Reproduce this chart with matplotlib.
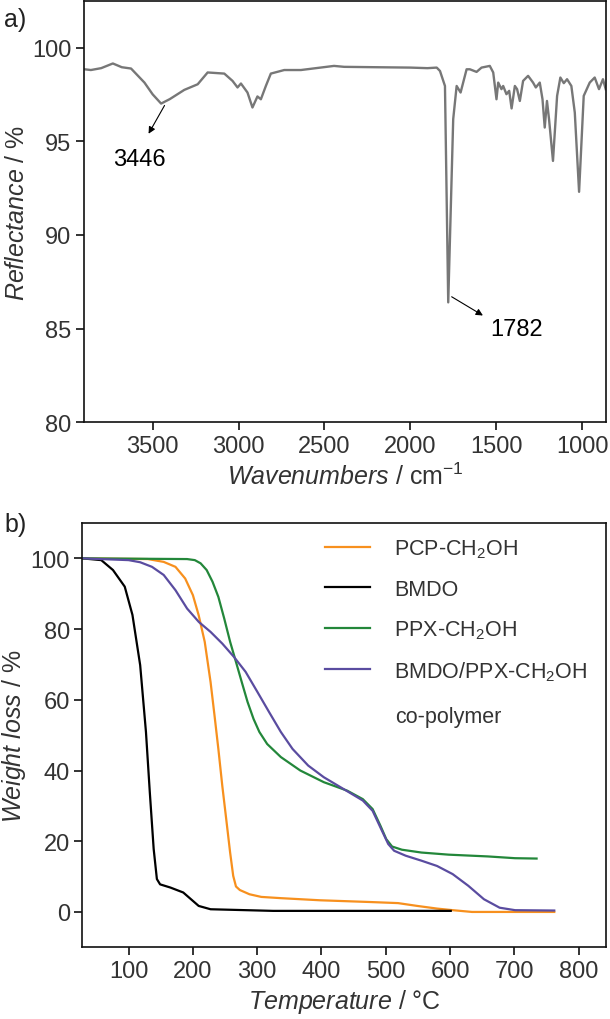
import matplotlib
matplotlib.use("Agg")
import matplotlib.pyplot as plt
import numpy as np

plt.rcParams['font.family'] = ['Liberation Sans', 'DejaVu Sans']
plt.rcParams['mathtext.fontset'] = 'custom'
plt.rcParams['mathtext.rm'] = 'Liberation Sans'
plt.rcParams['mathtext.it'] = 'Liberation Sans:italic'
plt.rcParams['mathtext.bf'] = 'Liberation Sans:bold'

# ---------------- data: (a) IR spectrum ----------------
ir_wavenumber = [3897, 3860, 3800, 3732, 3680, 3626, 3548, 3500, 3451, 3400, 3316, 3238,
                 3180, 3083, 3035, 3006, 2986, 2948, 2919, 2890, 2870, 2841, 2812, 2734,
                 2637, 2444, 2385, 2200, 2000, 1900, 1846, 1827, 1798, 1779, 1750, 1730,
                 1707, 1672, 1653, 1614, 1585, 1537, 1517, 1498, 1488, 1469, 1459, 1440,
                 1424, 1410, 1391, 1378, 1362, 1343, 1314, 1285, 1269, 1246, 1230, 1217,
                 1204, 1192, 1169, 1145, 1126, 1106, 1087, 1062, 1042, 1017, 990, 955,
                 926, 901, 878, 862]
ir_reflectance = [98.84, 98.80, 98.90, 99.15, 98.95, 98.88, 98.13, 97.50, 97.01, 97.25, 97.74, 98.04,
                  98.67, 98.61, 98.22, 97.87, 98.08, 97.60, 96.80, 97.39, 97.24, 97.95, 98.61, 98.80,
                  98.80, 99.02, 98.97, 98.95, 98.93, 98.90, 98.93, 98.75, 97.95, 86.40, 96.18, 97.95,
                  97.60, 98.84, 98.84, 98.70, 98.93, 99.02, 98.67, 97.24, 98.13, 97.78, 97.95, 97.51,
                  97.69, 96.75, 97.95, 97.78, 97.15, 98.22, 98.49, 98.13, 97.87, 98.13, 97.24, 95.73,
                  97.15, 96.18, 93.95, 97.42, 98.40, 98.10, 98.31, 97.95, 96.53, 92.30, 97.42, 98.13,
                  98.40, 97.78, 98.31, 97.78]
ir_peak_labels = ["3446", "1782"]
ir_peak_pos = [3446, 1779]
ir_peak_val = [97.01, 86.40]

# ---------------- data: (b) TGA ----------------
pcp_T = [28, 130, 154.6, 172.9, 188, 200, 209, 218.4, 227.5, 233.6, 239.6, 245.7, 251.8, 257.9,
         262.7, 267, 273, 288, 306.4, 336.8, 397.5, 476.4, 519, 549, 579.7, 604, 634, 762]
pcp_W = [100, 99.8, 99, 97.6, 94.3, 89.6, 83.9, 76.4, 65, 55.6, 46.1, 35.7, 26.3, 16.8,
         10.2, 7.2, 6.2, 5.0, 4.25, 3.9, 3.3, 2.8, 2.5, 1.7, 0.95, 0.5, 0.0, 0.0]

bmdo_T = [28, 57.5, 75.7, 94, 106, 118, 127, 133, 139, 144, 149, 165, 185, 197, 209,
          227.5, 324.7, 601]
bmdo_W = [100, 99.5, 96.7, 92, 84, 69.8, 50.9, 33.8, 17.8, 9.3, 7.8, 6.9, 5.5, 3.6, 1.7,
          0.76, 0.3, 0.3]

ppx_T = [28, 191, 203, 212, 221.4, 230.5, 239.6, 248.7, 257.9, 267, 276, 285, 294.3, 303.4,
         315.5, 336.8, 367, 403.6, 440, 464.3, 479.5, 491.6, 500.7, 509.8, 525, 555.4, 597.8,
         658.6, 701, 734.5]
ppx_W = [100, 99.8, 99.5, 98.6, 96.7, 93.4, 89.1, 83, 76.4, 70.7, 65, 59.4, 54.6, 50.9,
         47.5, 43.8, 40, 36.7, 34.3, 31.9, 29.1, 24.4, 20.6, 18.5, 17.6, 16.8, 16.2,
         15.7, 15.2, 15.1]

cop_T = [28, 100, 118, 136.4, 154.6, 172.9, 191, 209.3, 227.5, 245.7, 264, 282, 300.4, 318.6,
         336.8, 355, 379.3, 403.6, 434, 464.3, 479.5, 491.6, 503.8, 513, 531, 555.4, 579.7,
         604, 628.3, 652.6, 677, 701, 762]
cop_W = [100, 99.5, 98.9, 97.6, 95.3, 91, 85.8, 82, 79.2, 75.9, 72.1, 67.9, 62.2, 56.5,
         50.9, 46.1, 41.4, 38.1, 34.8, 31.5, 28.6, 23.9, 19.2, 17.3, 15.9, 14.5, 13,
         10.7, 7.4, 3.6, 1.2, 0.5, 0.4]

series_labels = ["PCP-CH$_2$OH", "BMDO", "PPX-CH$_2$OH", "BMDO/PPX-CH$_2$OH"]
series_colors = ["#F7901E", "#000000", "#23873A", "#5A4CA0"]

# ---------------- figure ----------------
W, H = 610, 1020
fig = plt.figure(figsize=(W / 100, H / 100), dpi=100)

tick_color = '#333333'
fs_tick = 17
fs_label = 18

def style(ax):
    for s in ax.spines.values():
        s.set_linewidth(1.2)
        s.set_color('#111111')
    ax.tick_params(direction='out', length=6, width=1.2, colors='#111111',
                   labelcolor=tick_color, labelsize=fs_tick, top=False, right=False, pad=3)

# (a)
ax1 = fig.add_axes([84 / W, 1 - 423.3 / H, (605.7 - 84) / W, (423.3 - 1.7) / H])
ax1.plot(ir_wavenumber, ir_reflectance, color='#777777', lw=1.7)
ax1.set_xlim(3900, 862)
ax1.set_ylim(80, 102.5)
ax1.set_xticks([3500, 3000, 2500, 2000, 1500, 1000])
ax1.set_yticks([80, 85, 90, 95, 100])
style(ax1)
ax1.set_xlabel(r'$\it{Wavenumbers}$ / cm$^{-1}$', fontsize=fs_label, color=tick_color, labelpad=4)
ax1.set_ylabel(r'$\it{Reflectance}$ / %', fontsize=fs_label, color=tick_color, labelpad=2)

arrow_kw = dict(arrowstyle='-|>', color='black', lw=0.8, mutation_scale=10,
                shrinkA=0, shrinkB=0)
ax1.annotate('', xy=(3524, 95.4), xytext=(ir_peak_pos[0] - 15, ir_peak_val[0] - 0.1),
             arrowprops=arrow_kw)
ax1.text(3577, 94.04, ir_peak_labels[0], fontsize=17, ha='center', va='center', color='black')
ax1.annotate('', xy=(1577, 85.7), xytext=(ir_peak_pos[1] - 20, ir_peak_val[1] + 0.3),
             arrowprops=arrow_kw)
ax1.text(1380, 84.98, ir_peak_labels[1], fontsize=17, ha='center', va='center', color='black')

fig.text(4 / W, 1 - 20 / H, 'a)', fontsize=18, color='#222222', va='center', ha='left')

# (b)
ax2 = fig.add_axes([82.3 / W, 1 - 948.3 / H, (605.7 - 82.3) / W, (948.3 - 524) / H])
Ts = [pcp_T, bmdo_T, ppx_T, cop_T]
Ws = [pcp_W, bmdo_W, ppx_W, cop_W]
for T, Wt, lab, col in zip(Ts, Ws, series_labels, series_colors):
    ax2.plot(T, Wt, color=col, lw=1.6, label=lab)
ax2.set_xlim(28, 842)
ax2.set_ylim(-10, 110)
ax2.set_xticks([100, 200, 300, 400, 500, 600, 700, 800])
ax2.set_yticks([0, 20, 40, 60, 80, 100])
style(ax2)
ax2.set_xlabel(r'$\it{Temperature}$ / °C', fontsize=fs_label, color=tick_color, labelpad=4)
ax2.set_ylabel(r'$\it{Weight\ loss}$ / %', fontsize=fs_label, color=tick_color, labelpad=2)

leg = ax2.legend(loc='upper left', bbox_to_anchor=(0.464, 0.965), frameon=False,
                 fontsize=15.5, handlelength=2.1, handletextpad=1.1, labelspacing=0.85,
                 borderpad=0, borderaxespad=0)
for t in leg.get_texts():
    t.set_color(tick_color)
ax2.text(0.597, 0.543, 'co-polymer', transform=ax2.transAxes, fontsize=15.5,
         color=tick_color, ha='left', va='center')

fig.text(4 / W, 1 - 525 / H, 'b)', fontsize=18, color='#222222', va='center', ha='left')

fig.savefig('out.png', dpi=100)
